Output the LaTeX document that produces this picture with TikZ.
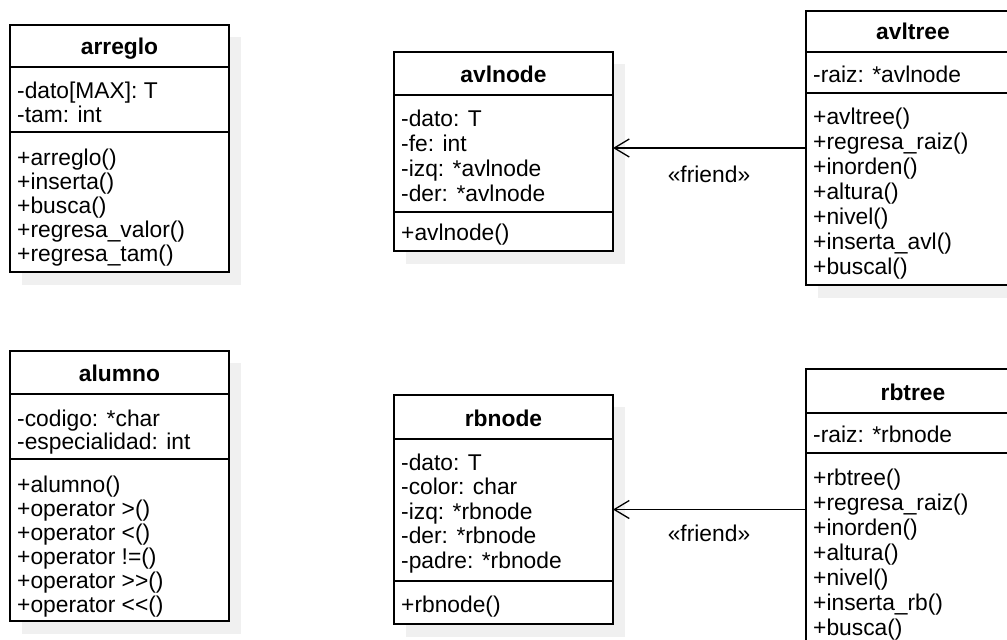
\documentclass[tikz,border=0pt]{standalone}
\usepackage{fontspec}
\setmainfont{Liberation Sans}
\usetikzlibrary{arrows.meta}

\tikzset{
  classframe/.style={draw=black, line width=1.3pt, fill=white, inner sep=0pt, outer sep=0pt, anchor=north west},
  classshadow/.style={fill=black!6, draw=none},
  rowtext/.style={anchor=base west, inner sep=0pt, font=\fontsize{22.8}{26}\selectfont},
  titletext/.style={anchor=base, inner sep=0pt, font=\bfseries\fontsize{22.8}{26}\selectfont},
  labeltext/.style={anchor=base, inner sep=0pt, font=\fontsize{22.8}{26}\selectfont},
  rowrule/.style={line width=1.3pt},
  friendlink/.style={line width=1.3pt, -{Straight Barb[length=15pt,width=18pt,line width=1.3pt]}},
}

% #1 name, #2 left, #3 top, #4 right, #5 bottom, #6 header rule, #7 separator rule,
% #8 title, #9 title baseline
\newcommand\umlclass[9]{%
  \fill[classshadow] (#2+12,#3+12) rectangle (#4+12,#5+13);
  \node[classframe, minimum width={#4-#2}, minimum height={#5-#3}] (#1) at (#2,#3) {};
  \draw[rowrule] (#2,#6) -- (#4,#6);
  \draw[rowrule] (#2,#7) -- (#4,#7);
  \node[titletext] (#1-title) at ({(#2+#4)/2},#9) {#8};
}

% #1 prefix, #2 x, #3 first baseline, #4 pitch, #5 rows
\newcommand\umlrows[5]{%
  \foreach \t [count=\i] in {#5} {\node[rowtext] (#1-\i) at (#2,{#3+(\i-1)*#4}) {\t};}%
}

\begin{document}
\begin{tikzpicture}[x=1pt, y=-1pt]
  \useasboundingbox (0,0) rectangle (1007,640);
  \clip (0,0) rectangle (1007,640);

  % arreglo
  \umlclass{arreglo}{10}{25}{229}{272}{67}{132}{arreglo}{54}
  \umlrows{arreglo-a}{17}{98}{24.5}{-dato[MAX]: T, -tam: int}
  \umlrows{arreglo-m}{17}{165}{24}{+arreglo(), +inserta(), +busca(), +regresa\_valor(), +regresa\_tam()}

  % avlnode
  \umlclass{avlnode}{394}{52}{613}{251}{95}{212}{avlnode}{82}
  \umlrows{avlnode-a}{401}{126}{25}{-dato: T, -fe: int, -izq: *avlnode, -der: *avlnode}
  \umlrows{avlnode-m}{401}{240}{24}{+avlnode()}

  % avltree
  \umlclass{avltree}{806}{11}{1020}{285}{52}{93}{avltree}{39}
  \umlrows{avltree-a}{813}{82}{25}{-raiz: *avlnode}
  \umlrows{avltree-m}{813}{124}{25}{+avltree(), +regresa\_raiz(), +inorden(), +altura(), +nivel(), +inserta\_avl(), +buscal()}

  % alumno
  \umlclass{alumno}{10}{351}{229}{621}{394}{459}{alumno}{381}
  \umlrows{alumno-a}{17}{426}{23.5}{-codigo: *char, -especialidad: int}
  \umlrows{alumno-m}{17}{492}{24}{+alumno(), +operator >(), +operator <(), +operator !=(), +operator >\kern0pt>(), +operator <\kern0pt<()}

  % rbnode
  \umlclass{rbnode}{394}{395}{613}{624}{439}{581}{rbnode}{426}
  \umlrows{rbnode-a}{401}{470}{24.5}{-dato: T, -color: char, -izq: *rbnode, -der: *rbnode, -padre: *rbnode}
  \umlrows{rbnode-m}{401}{612}{24}{+rbnode()}

  % rbtree
  \umlclass{rbtree}{806}{369}{1020}{660}{413}{453}{rbtree}{400}
  \umlrows{rbtree-a}{813}{442}{25}{-raiz: *rbnode}
  \umlrows{rbtree-m}{813}{485}{25}{+rbtree(), +regresa\_raiz(), +inorden(), +altura(), +nivel(), +inserta\_rb(), +busca()}

  % friend dependencies
  \draw[friendlink] (avltree.west) -- (avltree.west -| avlnode.east);
  \node[labeltext] (friend-avl) at (709,182) {«friend»};
  \draw[friendlink] (rbtree.west |- rbnode.east) -- (rbnode.east);
  \node[labeltext] (friend-rb) at (709,541) {«friend»};
\end{tikzpicture}
\end{document}
